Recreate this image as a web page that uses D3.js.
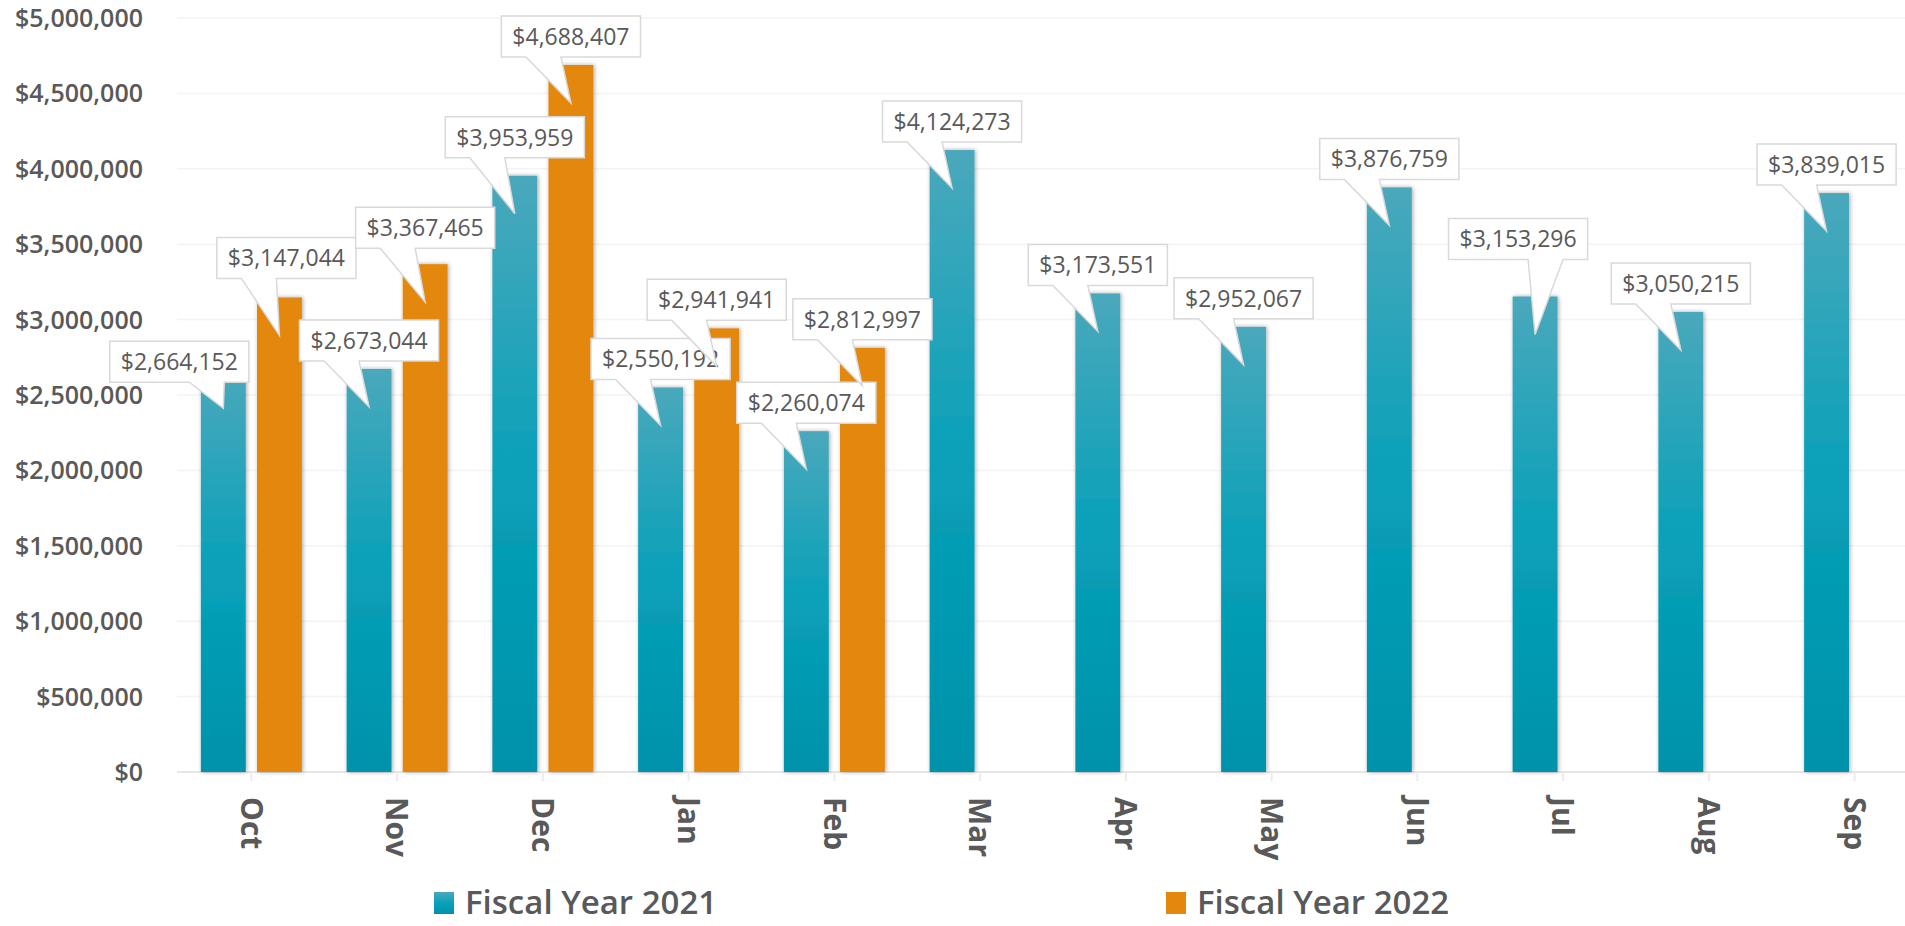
<!DOCTYPE html>
<html>
<head>
<meta charset="utf-8">
<script src="https://cdn.jsdelivr.net/npm/d3@7"></script>
<style>
  html, body { margin: 0; padding: 0; background: #fff; }
  svg { display: block; font-family: "Open Sans", "Noto Sans", sans-serif; }
</style>
</head>
<body>
<svg id="chart" width="1905" height="926"></svg>
<script>
// data
const months = ["Oct", "Nov", "Dec", "Jan", "Feb", "Mar", "Apr", "May", "Jun", "Jul", "Aug", "Sep"];
const seriesNames = ["Fiscal Year 2021", "Fiscal Year 2022"];
const fy2021 = [2664152, 2673044, 3953959, 2550192, 2260074, 4124273, 3173551, 2952067, 3876759, 3153296, 3050215, 3839015];
const fy2022 = [3147044, 3367465, 4688407, 2941941, 2812997, null, null, null, null, null, null, null];
const yMax = 5000000;

// hand nudges of a few callouts (series index, month) -> [dx, dy]
const labelNudge = {
  "0-Oct": [-44, 20],
  "1-Oct": [7, -11],
  "1-Nov": [0, -8],
  "0-Dec": [0, -10],
  "0-Jul": [-17, -29]
};

const svg = d3.select("#chart");
const textColor = "#595959";

const x0 = d3.scaleBand().domain(months).range([178.5, 1927.5])
  .paddingInner(0.307).paddingOuter(0.1535);
const x1 = d3.scaleBand().domain([0, 1]).range([0, x0.bandwidth()]).paddingInner(0.2);
const y = d3.scaleLinear().domain([0, yMax]).range([772, 18]);

const defs = svg.append("defs");
const grad = defs.append("linearGradient").attr("id", "teal")
  .attr("x1", 0).attr("y1", 0).attr("x2", 0).attr("y2", 1);
grad.append("stop").attr("offset", "0%").attr("stop-color", "#4aa8bc");
grad.append("stop").attr("offset", "50%").attr("stop-color", "#08a1b9");
grad.append("stop").attr("offset", "100%").attr("stop-color", "#0092aa");

const shadow = defs.append("filter").attr("id", "shadow")
  .attr("x", "-30%").attr("y", "-10%").attr("width", "160%").attr("height", "120%");
shadow.append("feDropShadow").attr("dx", 1).attr("dy", 0).attr("stdDeviation", 2)
  .attr("flood-color", "#000").attr("flood-opacity", 0.35);

const fills = ["url(#teal)", "#e3870d"];

// gridlines
const yTicks = y.ticks(10);
svg.append("g").selectAll("line").data(yTicks).join("line")
  .attr("x1", 177).attr("x2", 1905)
  .attr("y1", d => y(d)).attr("y2", d => y(d))
  .attr("stroke", d => d === 0 ? "#e6e6e6" : "#f3f3f3")
  .attr("stroke-width", d => d === 0 ? 2 : 1.5);

// category tick marks
svg.append("g").selectAll("line").data(months).join("line")
  .attr("x1", d => x0(d) + x0.bandwidth() / 2).attr("x2", d => x0(d) + x0.bandwidth() / 2)
  .attr("y1", 772).attr("y2", 781)
  .attr("stroke", "#ececec").attr("stroke-width", 2);

// y tick labels
svg.append("g").selectAll("text").data(yTicks).join("text")
  .attr("x", 143).attr("y", d => y(d)).attr("dy", "0.36em")
  .attr("text-anchor", "end")
  .attr("font-size", 25).attr("font-weight", 600).attr("fill", textColor)
  .text(d => "$" + d3.format(",")(d));

// month labels, rotated
svg.append("g").selectAll("text").data(months).join("text")
  .attr("transform", d => `translate(${x0(d) + x0.bandwidth() / 2},797) rotate(90)`)
  .attr("dy", "0.36em")
  .attr("text-anchor", "start")
  .attr("font-size", 30).attr("font-weight", 700).attr("fill", textColor)
  .text(d => d);

// bars
const series = [fy2021, fy2022];
const barData = [];
series.forEach((vals, s) => vals.forEach((v, i) => {
  if (v != null) barData.push({ s, month: months[i], value: v });
}));

svg.append("g").attr("filter", "url(#shadow)")
  .selectAll("rect").data(barData).join("rect")
  .attr("x", d => x0(d.month) + x1(d.s))
  .attr("y", d => y(d.value))
  .attr("width", x1.bandwidth())
  .attr("height", d => y(0) - y(d.value))
  .attr("fill", d => fills[d.s]);

// callout labels
const fmt = v => "$" + d3.format(",")(v);
const labelLayer = svg.append("g");
[0, 1].forEach(s => {
  barData.filter(d => d.s === s).forEach(d => {
    const nudge = labelNudge[`${d.s}-${d.month}`] || [0, 0];
    const cx = x0(d.month) + x1(d.s) + x1.bandwidth() / 2;
    const top = y(d.value);
    const g = labelLayer.append("g");
    const path = g.append("path");
    const txt = g.append("text")
      .attr("font-size", 23).attr("fill", textColor)
      .attr("text-anchor", "middle")
      .text(fmt(d.value));
    const w = txt.node().getComputedTextLength() + 22;
    const h = 41;
    const bx = cx + nudge[0];
    const bottom = top - 8 + nudge[1];
    const left = bx - w / 2, right = bx + w / 2, boxTop = bottom - h;
    const tipX = cx, tipY = top + 38;
    const base = nudge[0] < 0 ? [bx + 10, bx + 45] : [bx - 45, bx - 10];
    path.attr("d", `M${left},${boxTop}H${right}V${bottom}H${base[1]}L${tipX},${tipY}L${base[0]},${bottom}H${left}Z`)
      .attr("fill", "#fff").attr("stroke", "#d9d9d9").attr("stroke-width", 1.5)
      .attr("stroke-linejoin", "miter");
    txt.attr("x", bx).attr("y", boxTop + h / 2).attr("dy", "0.36em");
  });
});

// legend
const legendX = [434, 1166];
const legend = svg.append("g").selectAll("g").data(seriesNames).join("g")
  .attr("transform", (d, i) => `translate(${legendX[i]},0)`);
legend.append("rect").attr("x", 0).attr("y", 892).attr("width", 20).attr("height", 22)
  .attr("fill", (d, i) => fills[i]);
legend.append("text").attr("x", 31).attr("y", 914)
  .attr("font-size", 33).attr("font-weight", 600).attr("fill", textColor)
  .text(d => d);
</script>
</body>
</html>
